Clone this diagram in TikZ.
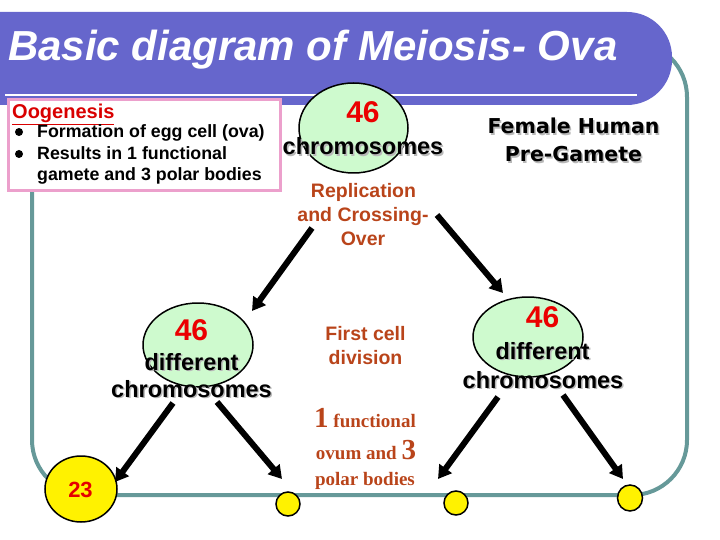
\documentclass[tikz,border=0pt]{standalone}
\usepackage{fontspec}
\setmainfont{Liberation Sans}
\newfontfamily\dvfont{DejaVu Sans}
\newfontfamily\serfont{Liberation Serif}
\usetikzlibrary{shapes.geometric,arrows.meta,calc}
\definecolor{barc}{RGB}{102,102,204}
\definecolor{framec}{RGB}{102,153,153}
\definecolor{greenc}{RGB}{206,250,206}
\definecolor{pinkc}{RGB}{236,160,204}
\definecolor{brownc}{RGB}{185,68,26}
\definecolor{redc}{RGB}{235,0,0}
\newcommand\fsz[1]{\fontsize{#1}{#1}\selectfont}
\newcommand\shtxt[4]{%
  \node[#2, text=black!28] at ($(#3)+(1.5,1.5)$) {#4};
  \node[#2] (#1) at (#3) {#4};}
\begin{document}
\begin{tikzpicture}[x=1pt,y=-1pt,
  txt/.style={inner sep=0pt, anchor=base},
  cell/.style={ellipse, draw=black, line width=1.5pt, fill=greenc, inner sep=0pt},
  yel/.style={ellipse, draw=black, line width=1.5pt, fill=yellow, inner sep=0pt},
  arr/.style={line width=6pt, black, -{Triangle[length=13pt,width=15pt]}},
  num/.style={txt, text=redc, font=\bfseries\fsz{30}},
  chrom/.style={txt, font=\bfseries\fsz{23.5}},
  fem/.style={txt, font=\dvfont\bfseries\fsz{20.5}},
  note/.style={txt, text=brownc, font=\bfseries\fsz{19.5}},
  sernote/.style={txt, text=brownc, font=\serfont\bfseries\fsz{19}},
  ootxt/.style={txt, anchor=base west, font=\bfseries\fsz{17.8}},
  dot/.style={circle, fill=black, inner sep=0pt, minimum size=8pt},
]
\useasboundingbox (0,0) rectangle (720,540);
% frame
\node[draw=framec, line width=4pt, rounded corners=55pt, minimum width=655pt,
      minimum height=453pt, anchor=north west, inner sep=0pt] (frame) at (30,40) {};
% title bar
\fill[barc] (0,12) -- (627,12) arc[start angle=-90,end angle=0,radius=45]
  -- (672,60) arc[start angle=0,end angle=90,radius=45] -- (0,105) -- cycle;
\draw[white, line width=2pt] (5,95) -- (637,95);
\node[txt, anchor=base west, text=white, font=\bfseries\itshape\fsz{42}] (title)
  at (8,61) {Basic diagram of Meiosis- Ova};
% oogenesis box
\node[draw=pinkc, line width=3pt, fill=white, minimum width=272pt, minimum height=91pt,
      anchor=north west, inner sep=0pt] (oobox) at (6.5,98.5) {};
\node[ootxt, text=red!85!black, font=\bfseries\fsz{20}] (oo) at (12,119) {\underline{Oogenesis}};
\node[dot] (d1) at (19,132) {};
\node[dot] (d2) at (19,154) {};
\node[ootxt] (l1) at (37,138) {Formation of egg cell (ova)};
\node[ootxt] (l2) at (37,160) {Results in 1 functional};
\node[ootxt] (l3) at (37,181) {gamete and 3 polar bodies};
% cells
\node[cell, minimum width=109pt, minimum height=90pt] (top) at (353.5,128) {};
\node[cell, minimum width=110pt, minimum height=84pt] (left) at (198,345) {};
\node[cell, minimum width=110pt, minimum height=80pt] (right) at (528,337) {};
% texts
\node[num] (n0) at (363,123) {46};
\shtxt{c0}{chrom}{363,155}{chromosomes}
\node[num] (n1) at (191.5,340) {46};
\shtxt{df1}{chrom}{191.5,370}{different}
\shtxt{c1}{chrom}{191.5,397}{chromosomes}
\node[num] (n2) at (542.5,327) {46};
\shtxt{df2}{chrom}{542.5,359}{different}
\shtxt{c2}{chrom}{543,388}{chromosomes}
\shtxt{fh1}{fem}{573.5,134}{Female Human}
\shtxt{fh2}{fem}{573.5,162}{Pre-Gamete}
\node[note] (r1) at (363.5,197) {Replication};
\node[note] (r2) at (363,222) {and Crossing-};
\node[note] (r3) at (363,245) {Over};
\node[note] (fc1) at (365.5,340) {First cell};
\node[note] (fc2) at (365.5,364) {division};
\node[sernote] (s1) at (365,427) {{\fsz{29}1} functional};
\node[sernote] (s2) at (366,459) {ovum and {\fsz{29}3}};
\node[sernote] (s3) at (365,485) {polar bodies};
% yellow cells
\node[yel, minimum width=72pt, minimum height=66pt] (y0) at (81,489) {};
\node[txt, anchor=center, text=red!90!black, font=\bfseries\fsz{22}] (t23) at (80.5,490) {23};
\node[yel, minimum width=24pt, minimum height=24pt] (y1) at (288,504) {};
\node[yel, minimum width=24pt, minimum height=24pt] (y2) at (456,503) {};
\node[yel, minimum width=25pt, minimum height=26pt] (y3) at (630,498) {};
% arrow ends
\coordinate (a1s) at (312,228); \coordinate (a1e) at (252,311);
\coordinate (a2s) at (437,215); \coordinate (a2e) at (503,293);
\coordinate (a3s) at (173,403); \coordinate (a3e) at (115,482);
\coordinate (a4s) at (217,402); \coordinate (a4e) at (282,479);
\coordinate (a5s) at (498,397); \coordinate (a5e) at (438,479);
\coordinate (a6s) at (563,395); \coordinate (a6e) at (623,479);
\draw[arr] (a1s) -- (a1e);
\draw[arr] (a2s) -- (a2e);
\draw[arr] (a3s) -- (a3e);
\draw[arr] (a4s) -- (a4e);
\draw[arr] (a5s) -- (a5e);
\draw[arr] (a6s) -- (a6e);
\end{tikzpicture}
\end{document}
